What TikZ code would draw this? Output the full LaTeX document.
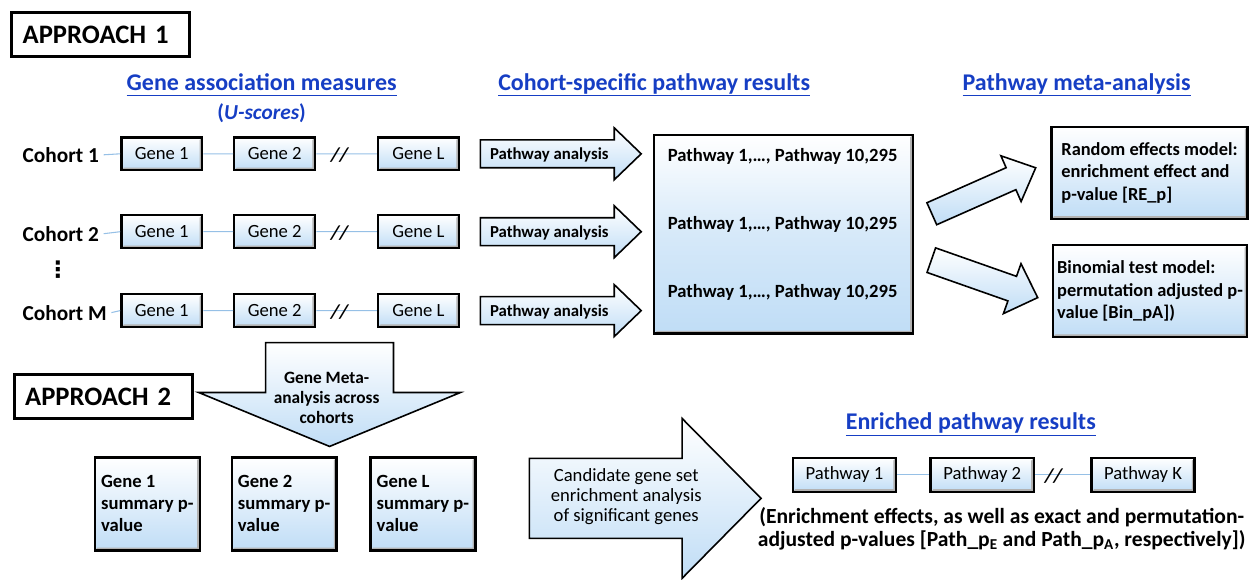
\documentclass[tikz,border=0pt]{standalone}
\usepackage{fontspec}
\setmainfont{Carlito}
\newfontfamily\dotsfont{DejaVu Sans}
\definecolor{titleblue}{RGB}{22,62,196}
\definecolor{paleblue}{RGB}{192,221,246}
\definecolor{linkblue}{RGB}{150,192,230}
\begin{document}
\begin{tikzpicture}[
        x=0.75pt,y=-0.75pt,
        font=\bfseries
    ]
    \tikzset{
        bevel/.style = {path picture={\fill[gray!60] (path picture bounding box.north east) -- (path picture bounding box.south east) -- (path picture bounding box.south west) -- ([shift={(2pt,2pt)}]path picture bounding box.south west) -- ([shift={(-2pt,2pt)}]path picture bounding box.south east) -- ([shift={(-2pt,-2pt)}]path picture bounding box.north east) -- cycle;}},
        genebox/.style = {rectangle, draw=black, line width=1.8pt, top color=white, bottom color=paleblue, bevel, minimum width=60.75pt, minimum height=24.75pt, inner sep=0pt, font=\fontsize{14}{17}\selectfont},
        pathbox/.style = {genebox, minimum width=77.5pt, minimum height=25.5pt},
        summarybox/.style = {rectangle, draw=black, line width=1.8pt, top color=white, bottom color=paleblue, bevel, minimum width=78.75pt, minimum height=69.75pt, inner sep=2pt, align=left, font=\bfseries\fontsize{14}{16.5}\selectfont},
        metabox/.style = {summarybox, minimum height=69pt, font=\bfseries\fontsize{13.8}{17}\selectfont},
        resultbox/.style = {rectangle, draw=black, line width=1.8pt, top color=white, bottom color=paleblue, middle color=paleblue!65, bevel, minimum width=194.25pt, minimum height=149.25pt},
        approachbox/.style = {rectangle, draw=black, line width=2.25pt, fill=white, minimum height=33pt, text width=117.5pt, inner xsep=8pt, align=left, font=\bfseries\fontsize{20}{24}\selectfont},
        blockarrow/.style = {draw=black, line width=1.2pt, top color=white, bottom color=paleblue},
        titletext/.style = {text=titleblue, font=\bfseries\fontsize{18}{22}\selectfont},
        cohorttext/.style = {anchor=west, font=\bfseries\fontsize{16}{19}\selectfont},
        arrowtext/.style = {font=\bfseries\fontsize{12.6}{15}\selectfont},
        restext/.style = {anchor=west, font=\bfseries\fontsize{14}{17}\selectfont},
        breaktext/.style = {font=\bfseries\itshape\fontsize{15}{18}\selectfont},
        linkline/.style = {draw=linkblue, line width=0.8pt},
    }
    \node[approachbox] (app1) at (101,35) {APPROACH 1};
    \node[approachbox] (app2) at (103.5,397) {APPROACH 2};

    \node[titletext] (genetitle) at (262,85) {\underline{Gene association measures\vphantom{y}}};
    \node[titletext, font=\bfseries\fontsize{16}{19}\selectfont] (uscore) at (262,113) {(\textit{U-scores})};
    \node[titletext] (cohorttitle) at (655,85) {\underline{Cohort-specific pathway results}};
    \node[titletext] (metatitle) at (1078,85) {\underline{Pathway meta-analysis}};
    \node[titletext] (enrichtitle) at (972,425) {\underline{Enriched pathway results}};

    \node[cohorttext] (c1) at (18,155) {Cohort 1};
    \node[genebox] (g11) at (162,154) {Gene 1};
    \node[genebox] (g12) at (275,154) {Gene 2};
    \node[genebox] (g1L) at (419,154) {Gene L};
    \node[cohorttext] (c2) at (18,234) {Cohort 2};
    \node[genebox] (g21) at (162,232) {Gene 1};
    \node[genebox] (g22) at (275,232) {Gene 2};
    \node[genebox] (g2L) at (419,232) {Gene L};
    \node[cohorttext] (cM) at (18,313) {Cohort M};
    \node[genebox] (gM1) at (162,311) {Gene 1};
    \node[genebox] (gM2) at (275,311) {Gene 2};
    \node[genebox] (gML) at (419,311) {Gene L};
    \node[font=\dotsfont\bfseries\fontsize{17}{20}\selectfont] (dots) at (58,270) {⋮};

    \draw[linkline] (c1.east) -- (g11.west) (g11.east) -- (g12.west) (g12.east) -- (g1L.west);
    \draw[linkline] (c2.east) -- (g21.west) (g21.east) -- (g22.west) (g22.east) -- (g2L.west);
    \draw[linkline] (cM.east) -- (gM1.west) (gM1.east) -- (gM2.west) (gM2.east) -- (gML.west);
    \node[breaktext] (br1) at (340,155) {//};
    \node[breaktext] (br2) at (340,233) {//};
    \node[breaktext] (brM) at (340,312) {//};

    \path[blockarrow] (481,140) -- (615,140) -- (615,128) -- (642,154) -- (615,180) -- (615,168) -- (481,168) -- cycle;
    \path[blockarrow] (481,218) -- (615,218) -- (615,206) -- (642,232) -- (615,258) -- (615,246) -- (481,246) -- cycle;
    \path[blockarrow] (481,297) -- (615,297) -- (615,285) -- (642,311) -- (615,337) -- (615,325) -- (481,325) -- cycle;
    \node[arrowtext] (pa1) at (550,155) {Pathway analysis};
    \node[arrowtext] (pa2) at (550,233) {Pathway analysis};
    \node[arrowtext] (paM) at (550,312) {Pathway analysis};

    \node[resultbox] (results) at (784.5,234.5) {};
    \node[restext] (res1) at (664,157) {Pathway 1,…, Pathway 10,295};
    \node[restext] (res2) at (664,225) {Pathway 1,…, Pathway 10,295};
    \node[restext] (resM) at (664,293) {Pathway 1,…, Pathway 10,295};

    \path[blockarrow] (928.1,203) -- (1007.4,167.9) -- (1002.2,156) -- (1037,168) -- (1022.4,201.8) -- (1017.2,189.9) -- (937.9,225) -- cycle;
    \path[blockarrow] (936.8,248.2) -- (1017.8,276.7) -- (1022.3,264) -- (1039,298) -- (1004.7,314) -- (1009.2,301.3) -- (928.2,272.8) -- cycle;

    \node[metabox, minimum width=147pt] (remodel) at (1151,173) {Random effects model:\\enrichment effect and\\p-value [RE\_p]};
    \node[metabox, minimum width=146pt] (binmodel) at (1151.5,291.5) {Binomial test model:\\permutation adjusted p-\\value [Bin\_pA])};

    \path[blockarrow] (266,343) -- (394,343) -- (394,393) -- (461,393) -- (330,447) -- (199,393) -- (266,393) -- cycle;
    \node[align=center, font=\bfseries\fontsize{13}{15}\selectfont] (genemeta) at (327,398) {Gene Meta-\\analysis across\\cohorts};

    \node[summarybox] (sum1) at (147.5,504.5) {Gene 1\\summary p-\\value};
    \node[summarybox] (sum2) at (284.5,504.5) {Gene 2\\summary p-\\value};
    \node[summarybox] (sumL) at (423.5,504.5) {Gene L\\summary p-\\value};

    \path[blockarrow] (530,459) -- (683,459) -- (683,419) -- (762,499) -- (683,579) -- (683,539) -- (530,539) -- cycle;
    \node[align=center, font=\fontsize{14}{15}\selectfont] (candidate) at (627,497) {Candidate gene set\\enrichment analysis\\of significant genes};

    \node[pathbox] (p1) at (845.5,475.5) {Pathway 1};
    \node[pathbox] (p2) at (983.5,475.5) {Pathway 2};
    \node[pathbox] (pK) at (1144.5,475.5) {Pathway K};
    \draw[linkline] (p1.east) -- (p2.west) (p2.east) -- (pK.west);
    \node[breaktext] (brK) at (1055,477) {//};
    \node[align=center, font=\bfseries\fontsize{16.2}{17.25}\selectfont] (enrichnote) at (1003,529.5) {(Enrichment effects, as well as exact and permutation-\\adjusted p-values [Path\_p\textsubscript{E} and Path\_p\textsubscript{A}, respectively])};

    \useasboundingbox (0,0) rectangle (1250,578);
\end{tikzpicture}
\end{document}
